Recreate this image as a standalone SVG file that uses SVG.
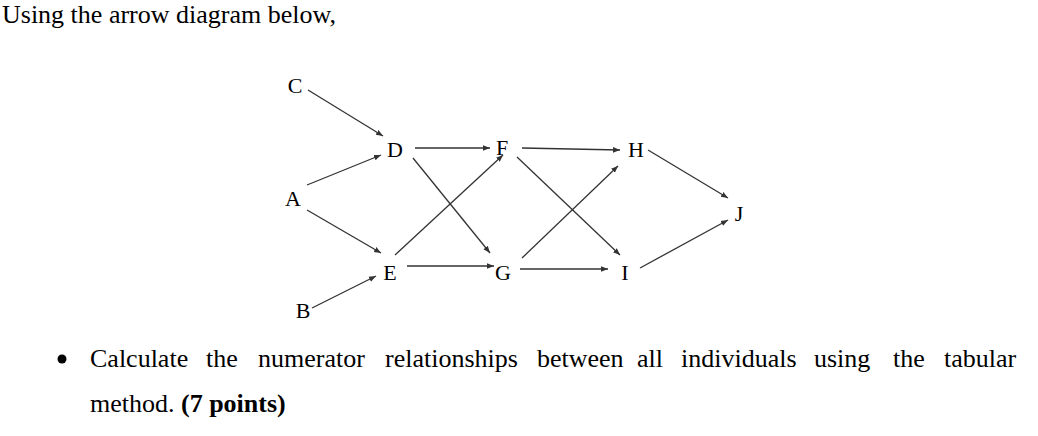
<svg xmlns="http://www.w3.org/2000/svg" width="1038" height="436" viewBox="0 0 1038 436">
<defs><marker id="ah" viewBox="0 0 10 10" refX="10" refY="5" markerWidth="7" markerHeight="7" orient="auto" markerUnits="userSpaceOnUse"><path d="M0,1 L10,5 L0,9 z" fill="#333"/></marker></defs>
<style>
.t{font-family:"Liberation Serif",serif;font-size:26px;fill:#000}
.n{font-family:"Liberation Serif",serif;font-size:22px;fill:#000;text-anchor:middle}
.c line{stroke:#333;stroke-width:1.3;marker-end:url(#ah)}
</style>
<rect width="1038" height="436" fill="#fff"/>
<text class="t" x="2" y="23">Using the arrow diagram below,</text>
<g class="c" id="connectors">
<line x1="308" y1="90" x2="383" y2="136"/>
<line x1="415" y1="148" x2="490" y2="148"/>
<line x1="522" y1="148" x2="620" y2="150"/>
<line x1="648" y1="150" x2="728" y2="198"/>
<line x1="307" y1="185" x2="381" y2="155"/>
<line x1="307" y1="210" x2="381" y2="253"/>
<line x1="395" y1="255" x2="503" y2="155"/>
<line x1="407" y1="266" x2="494" y2="266"/>
<line x1="413" y1="158" x2="490" y2="253"/>
<line x1="522" y1="258" x2="618" y2="166"/>
<line x1="520" y1="269" x2="608" y2="269"/>
<line x1="517" y1="157" x2="620" y2="255"/>
<line x1="640" y1="268" x2="728" y2="220"/>
<line x1="312" y1="308" x2="376" y2="276"/>
</g>
<g id="C"><text class="n" x="295" y="93">C</text></g>
<g id="D"><text class="n" x="395" y="157">D</text></g>
<g id="F"><text class="n" x="502" y="155">F</text></g>
<g id="H"><text class="n" x="636" y="157">H</text></g>
<g id="A"><text class="n" x="293" y="206">A</text></g>
<g id="J"><text class="n" x="739" y="221">J</text></g>
<g id="E"><text class="n" x="390" y="280">E</text></g>
<g id="G"><text class="n" x="503" y="280">G</text></g>
<g id="I"><text class="n" x="625" y="280">I</text></g>
<g id="B"><text class="n" x="303" y="318">B</text></g>
<circle cx="62" cy="359" r="4.5" fill="#000"/>
<text class="t" y="367"><tspan x="90">Calculate</tspan><tspan x="206">the</tspan><tspan x="258">numerator</tspan><tspan x="385">relationships</tspan><tspan x="537">between</tspan><tspan x="637">all</tspan><tspan x="681">individuals</tspan><tspan x="814">using</tspan><tspan x="893">the</tspan><tspan x="944">tabular</tspan></text>
<text class="t" x="90" y="412">method. <tspan font-weight="bold">(7 points)</tspan></text>
</svg>
